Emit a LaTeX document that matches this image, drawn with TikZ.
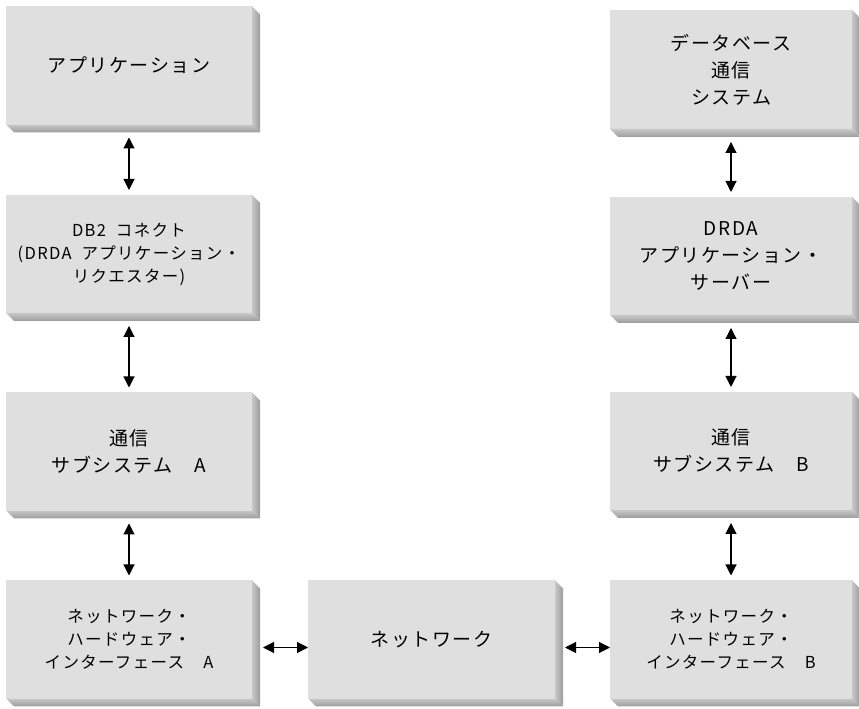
\documentclass[tikz,border=0pt]{standalone}
\usepackage{fontspec}
\newfontfamily\jpfont[LetterSpace=8]{Noto Sans CJK JP}
\usepackage{tikz}
\usetikzlibrary{arrows.meta,calc}
\definecolor{facegray}{HTML}{DFDFDF}
\definecolor{bevlight}{HTML}{C8C8C8}
\definecolor{bevdark}{HTML}{9C9C9C}

\begin{document}
\begin{tikzpicture}[x=1pt,y=1pt,
  panel/.style={fill=facegray,inner sep=0pt,outer sep=0pt,align=center,
    minimum width=246,minimum height=118,
    font=\jpfont\fontsize{19}{27}\selectfont},
  small/.style={font=\jpfont\fontsize{16.5}{23}\selectfont},
  link/.style={{Triangle[length=11pt,width=11pt]}-{Triangle[length=11pt,width=11pt]},line width=1.1pt}]
  \useasboundingbox (0,0) rectangle (859,709);
  % ---------- left column ----------
  \node[panel] (app) at (129,643.5) {アプリケーション};
  \node[panel,small] (db2c) at (129,455) {DB2\hspace{0.6em}コネクト\\(DRDA\hspace{0.6em}アプリケーション・\\リクエスター)};
  \node[panel] (commA) at (129,257.5) {通信\\サブシステム　A};
  \node[panel,small] (nhiA) at (129,69.5) {ネットワーク・\\ハードウェア・\\インターフェース　A};
  % ---------- middle ----------
  \node[panel,minimum width=247] (net) at (431.5,69.5) {ネットワーク};
  % ---------- right column ----------
  \node[panel,minimum width=242,minimum height=119] (dbcs) at (731,639.5) {データベース\\通信\\システム};
  \node[panel,minimum width=242] (drda) at (731,453) {DRDA\\アプリケーション・\\サーバー};
  \node[panel,minimum width=242] (commB) at (731,258) {通信\\サブシステム　B};
  \node[panel,small,minimum width=242] (nhiB) at (731,69.5) {ネットワーク・\\ハードウェア・\\インターフェース　B};
  % bevels on the right and bottom edges
  \foreach \n in {app,db2c,commA,nhiA,net,dbcs,drda,commB,nhiB} {
    \shade[left color=bevlight,right color=bevdark]
      (\n.north east) -- ++(8,-8) -- ($(\n.south east)+(8,-8)$) -- (\n.south east) -- cycle;
    \shade[top color=bevlight,bottom color=bevdark]
      (\n.south west) -- (\n.south east) -- ++(8,-8) -- ($(\n.south west)+(8,-8)$) -- cycle;
  }
  % connectors
  \foreach \a/\b in {app/db2c,db2c/commA,commA/nhiA,dbcs/drda,drda/commB,commB/nhiB}
    \draw[link] ([yshift=-13]\a.south) -- ([yshift=5]\b.north);
  \draw[link] ([xshift=11,yshift=-8]nhiA.east) -- ([yshift=-8]net.west);
  \draw[link] ([xshift=10,yshift=-8]net.east) -- ([yshift=-8]nhiB.west);
\end{tikzpicture}
\end{document}
